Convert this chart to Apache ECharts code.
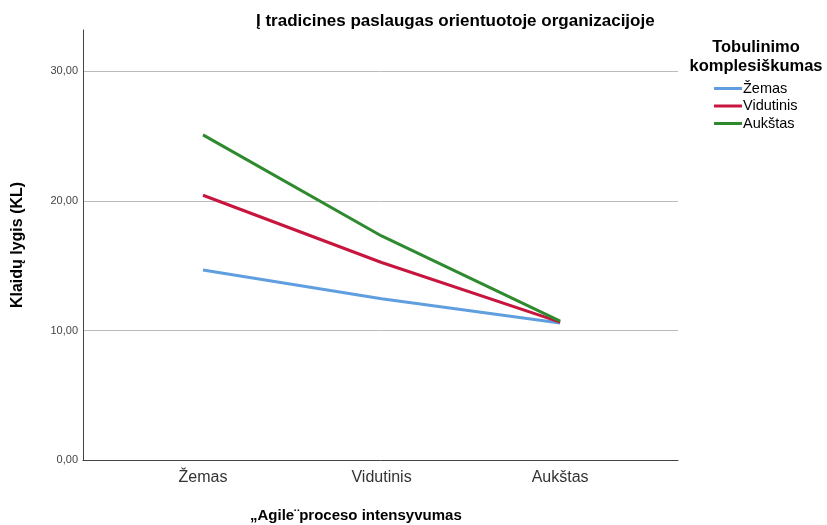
<!DOCTYPE html>
<html>
<head>
<meta charset="utf-8">
<script src="https://cdn.jsdelivr.net/npm/echarts@6/dist/echarts.min.js"></script>
<style>html,body{margin:0;padding:0;background:#fff;}#c{width:827px;height:525px;}</style>
</head>
<body>
<div id="c"></div>
<script>
const categories = ['Žemas', 'Vidutinis', 'Aukštas'];
const seriesNames = ['Žemas', 'Vidutinis', 'Aukštas'];
const valuesZemas = [14.67, 12.45, 10.57];
const valuesVidutinis = [20.44, 15.25, 10.65];
const valuesAukstas = [25.1, 17.3, 10.73];
const yTicks = [0, 10, 20, 30];
const colors = ['#5f9fe0', '#c8153e', '#2f8a2f'];

const font = 'Arial, "Liberation Sans", sans-serif';
const allValues = [valuesZemas, valuesVidutinis, valuesAukstas];

const chart = echarts.init(document.getElementById('c'));
chart.setOption({
  animation: false,
  backgroundColor: '#fff',
  title: [
    { text: 'Į tradicines paslaugas orientuotoje organizacijoje', left: 251, top: 8,
      textStyle: { fontFamily: font, fontSize: 17, fontWeight: 'bold', color: '#000' } },
    { text: '„Agile¨proceso intensyvumas', left: 245, top: 503,
      textStyle: { fontFamily: font, fontSize: 15, fontWeight: 'bold', color: '#000' } },
    { text: 'Tobulinimo\nkomplesiškumas', left: 751, top: 33, textAlign: 'center',
      textStyle: { fontFamily: font, fontSize: 16.5, fontWeight: 'bold', color: '#000', lineHeight: 19 } }
  ],
  legend: {
    orient: 'vertical', left: 709, top: 76, itemWidth: 28, itemHeight: 3, itemGap: 2.5,
    icon: 'rect',
    data: seriesNames,
    textStyle: { fontFamily: font, fontSize: 14.5, color: '#000', padding: [0, 0, 0, -4], lineHeight: 15 }
  },
  grid: { left: 83, right: 149, top: 30, bottom: 65 },
  xAxis: {
    type: 'value', min: -0.672, max: 2.66,
    axisLine: { show: true, onZero: false, lineStyle: { color: '#444', width: 1 } },
    axisTick: { show: false },
    splitLine: { show: false },
    axisLabel: {
      customValues: [0, 1, 2],
      formatter: v => categories[Math.round(v)] || '',
      fontFamily: font, fontSize: 16, color: '#333', margin: 10
    }
  },
  yAxis: {
    type: 'value', min: 0, max: 33.2, interval: 10,
    name: 'Klaidų lygis (KL)', nameLocation: 'middle', nameRotate: 90, nameGap: 57,
    nameTextStyle: { fontFamily: font, fontSize: 16, fontWeight: 'bold', color: '#000' },
    axisLine: { show: true, onZero: false, lineStyle: { color: '#444', width: 1 } },
    axisTick: { show: false },
    splitLine: { show: true, showMinLine: false, showMaxLine: false, lineStyle: { color: '#bbb', width: 1 } },
    axisLabel: {
      customValues: yTicks,
      formatter: v => v.toFixed(2).replace('.', ','),
      fontFamily: font, fontSize: 11, color: '#444', margin: 5
    }
  },
  series: seriesNames.map((n, i) => ({
    name: n, type: 'line', symbol: 'none', color: colors[i],
    lineStyle: { width: 3, color: colors[i] },
    data: allValues[i].map((v, j) => [j, v])
  }))
});
</script>
</body>
</html>
